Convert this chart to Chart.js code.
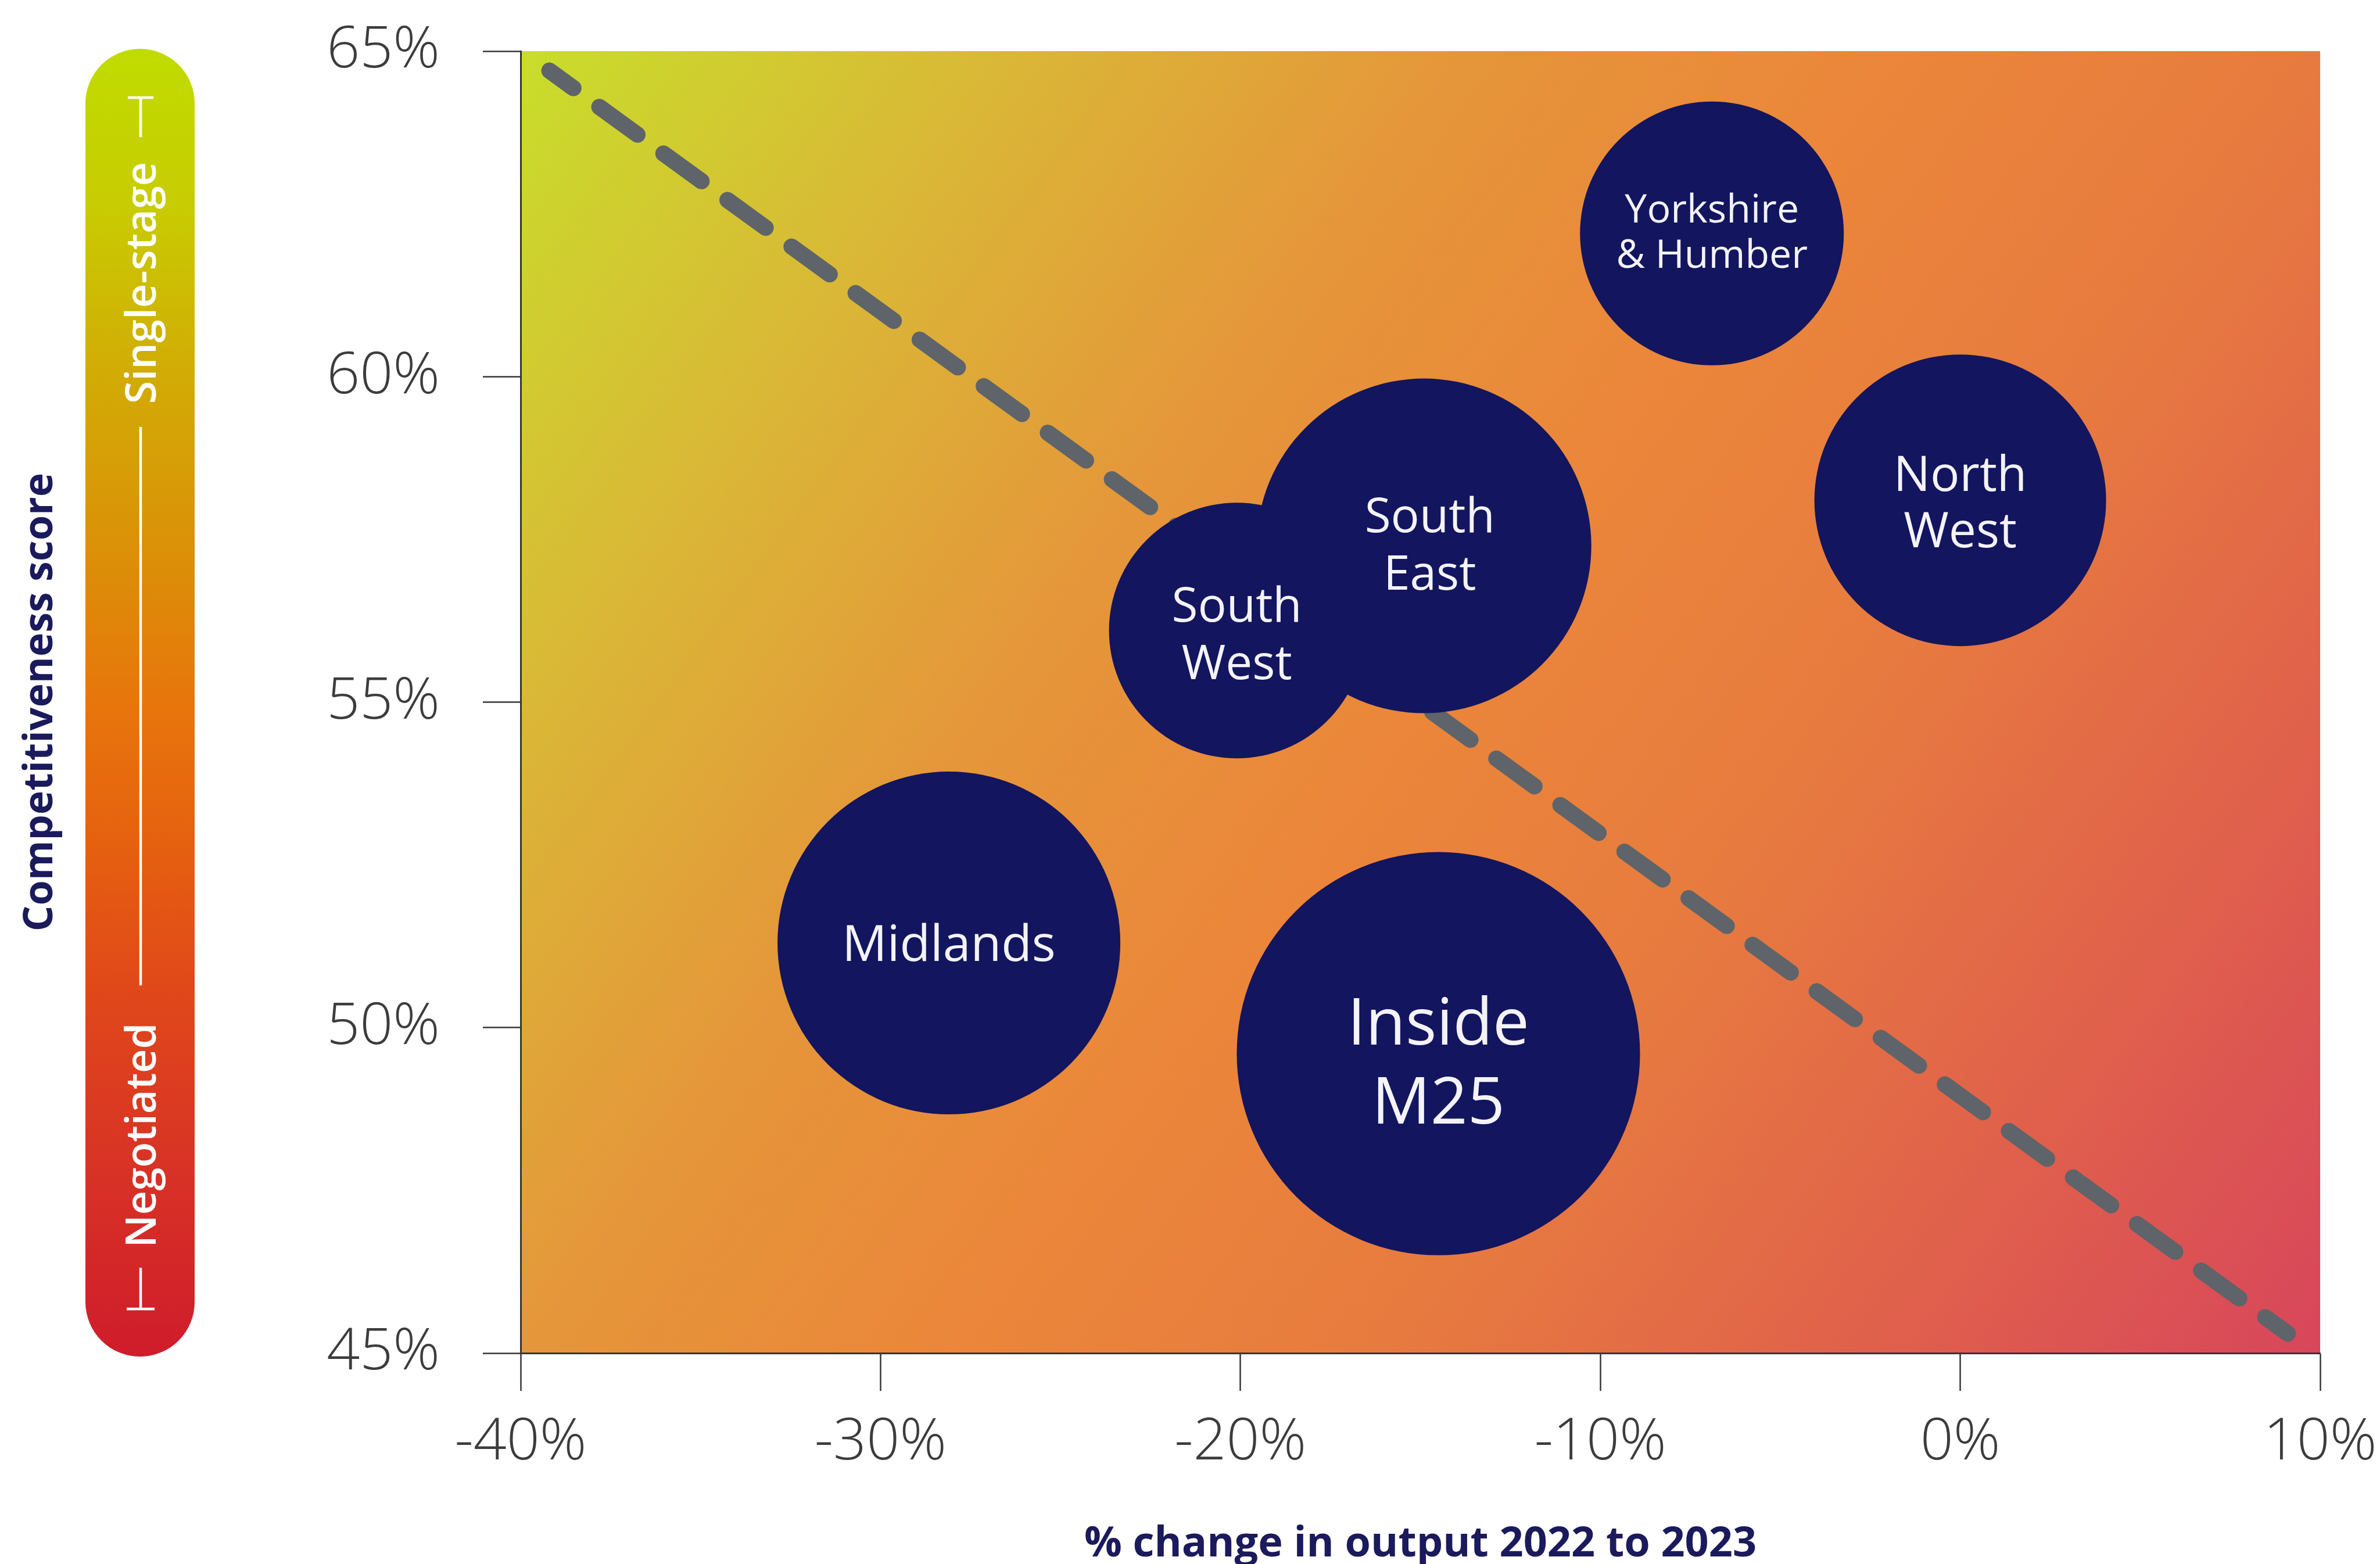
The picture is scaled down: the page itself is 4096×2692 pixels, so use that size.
<!DOCTYPE html>
<html>
<head>
<meta charset="utf-8">
<script src="https://cdn.jsdelivr.net/npm/chart.js@4/dist/chart.umd.min.js"></script>
<style>
  html, body { margin: 0; padding: 0; background: #ffffff; }
  canvas { display: block; }
</style>
</head>
<body>
<canvas id="chart" width="4096" height="2692"></canvas>
<script>
// ---- data ----
const regions = ['Yorkshire & Humber', 'North West', 'South East', 'South West', 'Midlands', 'Inside M25'];
const outputChange = [-6.9, 0.0, -14.9, -20.1, -28.1, -14.5];      // % change in output 2022 to 2023
const competitiveness = [62.2, 58.1, 57.4, 56.1, 51.3, 49.6];      // competitiveness score, %
const bubbleRadius = [227, 251, 288, 220, 295, 347];
const labelLines = [['Yorkshire', '& Humber'], ['North', 'West'], ['South', 'East'], ['South', 'West'], ['Midlands'], ['Inside', 'M25']];
const trendX = [-39.2, 9.1];
const trendY = [64.7, 45.3];
const xTicks = [-40, -30, -20, -10, 0, 10];
const yTicks = [45, 50, 55, 60, 65];

// ---- styling ----
const NAVY = '#13155e';
const TITLE = '#1b1a5c';
const AXIS = '#363636';
const TICK_TEXT = '#3c3c3c';

// per-bubble label typography: font size and vertical offsets of each line
const labelStyle = [
  { size: 68,  dx: 0,  dy: [-43, 35] },
  { size: 84,  dx: 0,  dy: [-46, 51] },
  { size: 82,  dx: 10, dy: [-53, 46] },
  { size: 82,  dx: 0,  dy: [-45, 54] },
  { size: 86,  dx: 0,  dy: [0] },
  { size: 112, dx: 0,  dy: [-56, 80] }
];

// plot background: diagonal lime -> orange -> red wash
const plotGradient = {
  id: 'plotGradient',
  beforeDraw(chart) {
    const { ctx, chartArea: a } = chart;
    const g = ctx.createLinearGradient(a.left, a.top, a.right, a.bottom);
    g.addColorStop(0.00, '#c8de2a');
    g.addColorStop(0.17, '#d9b936');
    g.addColorStop(0.345, '#e5963a');
    g.addColorStop(0.50, '#eb863a');
    g.addColorStop(0.655, '#e77b3f');
    g.addColorStop(0.83, '#e0614b');
    g.addColorStop(1.00, '#d8465b');
    ctx.save();
    ctx.fillStyle = g;
    ctx.fillRect(a.left, a.top, a.right - a.left, a.bottom - a.top);
    ctx.restore();
  }
};

// vertical "Negotiated ... Single-stage" scale bar beside the y axis
const scaleBar = {
  id: 'scaleBar',
  beforeDraw(chart) {
    const { ctx } = chart;
    const x0 = 147, x1 = 335, y0 = 84, y1 = 2335;
    const w = x1 - x0, r = w / 2;
    ctx.save();
    const g = ctx.createLinearGradient(0, y0, 0, y1);
    g.addColorStop(0.00, '#c0dc00');
    g.addColorStop(0.12, '#c8cc02');
    g.addColorStop(0.25, '#d2ab05');
    g.addColorStop(0.40, '#dc8d08');
    g.addColorStop(0.50, '#e7760c');
    g.addColorStop(0.60, '#e6620f');
    g.addColorStop(0.72, '#e0481a');
    g.addColorStop(0.86, '#d83226');
    g.addColorStop(1.00, '#cf1c2b');
    ctx.fillStyle = g;
    ctx.beginPath();
    ctx.roundRect(x0, y0, w, y1 - y0, r);
    ctx.fill();

    const lx = 242;
    ctx.strokeStyle = '#ffffff';
    ctx.lineWidth = 4.5;
    ctx.lineCap = 'butt';
    ctx.beginPath();
    // top cap and stem
    ctx.moveTo(lx - 22, 168); ctx.lineTo(lx + 22, 168);
    ctx.moveTo(lx, 168); ctx.lineTo(lx, 236);
    // middle rule
    ctx.moveTo(lx, 735); ctx.lineTo(lx, 1696);
    // bottom stem and cap
    ctx.moveTo(lx, 2182); ctx.lineTo(lx, 2253);
    ctx.moveTo(lx - 24, 2253); ctx.lineTo(lx + 24, 2253);
    ctx.stroke();

    ctx.fillStyle = '#ffffff';
    ctx.font = '600 72px "Open Sans"';
    ctx.textAlign = 'center';
    ctx.textBaseline = 'alphabetic';
    const capHalf = 72 * 0.357;
    [['Single-stage', 487], ['Negotiated', 1954]].forEach(([t, cy]) => {
      ctx.save();
      ctx.translate(lx, cy);
      ctx.rotate(-Math.PI / 2);
      ctx.fillText(t, 0, capHalf);
      ctx.restore();
    });
    ctx.restore();
  }
};

// region names written inside each bubble
const bubbleLabels = {
  id: 'bubbleLabels',
  afterDatasetsDraw(chart) {
    const meta = chart.getDatasetMeta(0);
    const { ctx } = chart;
    ctx.save();
    ctx.fillStyle = '#f3f3f8';
    ctx.textAlign = 'center';
    ctx.textBaseline = 'alphabetic';
    meta.data.forEach((el, i) => {
      const st = labelStyle[i];
      ctx.font = `400 ${st.size}px "Open Sans"`;
      labelLines[i].forEach((line, j) => {
        ctx.fillText(line, el.x + st.dx, el.y + st.dy[j] + st.size * 0.357);
      });
    });
    ctx.restore();
  }
};

function draw() {
  const ctx = document.getElementById('chart').getContext('2d');
  new Chart(ctx, {
    type: 'bubble',
    data: {
      datasets: [
        {
          type: 'bubble',
          label: 'Regions',
          order: 0,
          data: regions.map((name, i) => ({ x: outputChange[i], y: competitiveness[i], r: bubbleRadius[i] })),
          backgroundColor: NAVY,
          borderWidth: 0,
          hoverRadius: 0
        },
        {
          type: 'line',
          label: 'Trend',
          order: 1,
          data: trendX.map((x, i) => ({ x, y: trendY[i] })),
          borderColor: '#5e6469',
          borderWidth: 28,
          borderDash: [81, 55.3],
          borderDashOffset: 30,
          borderCapStyle: 'round',
          pointRadius: 0,
          fill: false,
          tension: 0
        }
      ]
    },
    options: {
      responsive: false,
      devicePixelRatio: 1,
      animation: false,
      events: [],
      layout: { autoPadding: false, padding: { left: 0, right: 103, top: 88, bottom: 0 } },
      plugins: {
        legend: { display: false },
        tooltip: { enabled: false }
      },
      scales: {
        x: {
          type: 'linear',
          position: 'bottom',
          min: -40,
          max: 10,
          afterBuildTicks: s => { s.ticks = xTicks.map(v => ({ value: v })); },
          afterFit: s => { s.height = 363; s.paddingLeft = 0; s.paddingRight = 0; },
          grid: { drawOnChartArea: false, drawTicks: true, tickLength: 65, tickWidth: 2.5, tickColor: AXIS, color: AXIS },
          border: { display: true, color: AXIS, width: 3 },
          ticks: {
            autoSkip: false, maxRotation: 0, padding: 30, color: TICK_TEXT,
            font: { family: 'Open Sans', size: 100, weight: 300 },
            callback: v => v + '%'
          },
          title: {
            display: true, text: '% change in output 2022 to 2023', color: TITLE,
            font: { family: 'Open Sans', size: 72, weight: 700, lineHeight: 0.94 },
            padding: { top: 0, bottom: 0 }
          }
        },
        y: {
          type: 'linear',
          position: 'left',
          min: 45,
          max: 65,
          afterBuildTicks: s => { s.ticks = yTicks.map(v => ({ value: v })); },
          afterFit: s => { s.width = 896; s.paddingTop = 0; s.paddingBottom = 0; },
          grid: { drawOnChartArea: false, drawTicks: true, tickLength: 65, tickWidth: 2.5, tickColor: AXIS, color: AXIS },
          border: { display: true, color: AXIS, width: 3 },
          ticks: {
            padding: 74, color: TICK_TEXT,
            font: { family: 'Open Sans', size: 100, weight: 300 },
            callback: v => v + '%'
          },
          title: {
            display: true, text: 'Competitiveness score', color: TITLE,
            font: { family: 'Open Sans', size: 70, weight: 700, lineHeight: 0.94 },
            padding: { top: 37, bottom: 0 }
          }
        }
      }
    },
    plugins: [plotGradient, scaleBar, bubbleLabels]
  });
}

const fontsWanted = [
  '300 100px "Open Sans"', '400 80px "Open Sans"', '600 72px "Open Sans"', '700 70px "Open Sans"'
];
Promise.all(fontsWanted.map(f => document.fonts.load(f).catch(() => null)))
  .then(draw, draw);
</script>
</body>
</html>
